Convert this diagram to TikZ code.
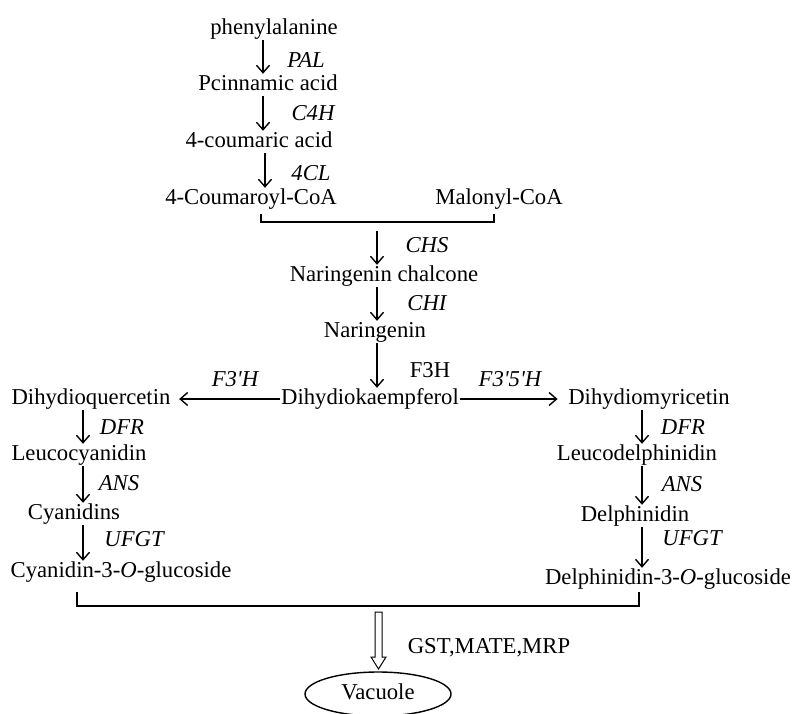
\documentclass[tikz,border=0pt]{standalone}
\usepackage{fontspec}
\setmainfont{Liberation Serif}
\usetikzlibrary{arrows.meta,shapes.geometric}
\begin{document}
\begin{tikzpicture}[x=1pt,y=-1pt,
  every node/.style={font=\fontsize{22.7}{26}\selectfont, inner sep=0.5pt, text height=16pt, text depth=5pt, yshift=-2pt},
  enz/.style={font=\fontsize{22.7}{26}\selectfont\itshape},
  arr/.style={-{Straight Barb[length=7.5pt,width=13pt]}, line width=1.4pt},
  ln/.style={line width=1.4pt}]
\useasboundingbox (0,0) rectangle (792,713);
\clip (0,0) rectangle (792,713);
% main trunk
\node (phe) at (274,27) {phenylalanine};
\node (pci) at (268,83) {Pcinnamic acid};
\node (cou) at (259,140) {4-coumaric acid};
\node (cco) at (251,197) {4-Coumaroyl-CoA};
\node (mal) at (499,197) {Malonyl-CoA};
\node (nch) at (384,274) {Naringenin chalcone};
\node (nar) at (375,330) {Naringenin};
\node (dk) at (370,397) {Dihydiokaempferol};
% enzymes
\node[enz] (pal) at (306,60) {PAL};
\node[enz] (c4h) at (313,113) {C4H};
\node[enz] (fcl) at (311,173) {4CL};
\node[enz] (chs) at (427,245) {CHS};
\node[enz] (chi) at (427,303) {CHI};
\node (f3h) at (430,370) {F3H};
\node[enz] (f3p) at (235,379) {F3\textquotesingle H};
\node[enz] (f35) at (510,379) {F3\textquotesingle 5\textquotesingle H};
% left branch
\node (dq) at (91,397) {Dihydioquercetin};
\node (lc) at (79,453) {Leucocyanidin};
\node (cy) at (74,512) {Cyanidins};
\node (cyg) at (121,570) {Cyanidin-3-\textit{O}-glucoside};
\node[enz] (dfr1) at (122,427) {DFR};
\node[enz] (ans1) at (119,483) {ANS};
\node[enz] (ufg1) at (134,539) {UFGT};
% right branch
\node (dm) at (649,397) {Dihydiomyricetin};
\node (ld) at (637,453) {Leucodelphinidin};
\node (dp) at (635,514) {Delphinidin};
\node (dpg) at (668,577) {Delphinidin-3-\textit{O}-glucoside};
\node[enz] (dfr2) at (683,427) {DFR};
\node[enz] (ans2) at (682,484) {ANS};
\node[enz] (ufg2) at (692,538) {UFGT};
% transport
\node (gst) at (489,646) {GST,MATE,MRP};
\node[draw, ellipse, ln, minimum width=146pt, minimum height=44pt, inner sep=0pt] (vac) at (378,692) {Vacuole};
% arrows trunk
\draw[arr] (phe.south -| 263,0) -- (pci.north -| 263,0);
\draw[arr] (pci.south -| 263,0) -- (cou.north -| 263,0);
\draw[arr] (cou.south -| 265,0) -- (cco.north -| 265,0);
% bracket
\coordinate (b1) at (261,212);
\coordinate (b2) at (494,212);
\draw[ln] (b1) -- (b1 |- 0,222) -- (b2 |- 0,222) -- (b2);
\coordinate (bs) at (377,229);
\draw[arr] (bs) -- (nch.north -| 377,0);
\draw[arr] (nch.south -| 377,0) -- (nar.north -| 377,0);
\draw[arr] (nar.south -| 377,0) -- (dk.north -| 377,0);
% horizontal
\draw[arr] (dk.west) -- ([xshift=8pt]dq.east);
\draw[arr] (dk.east) -- ([xshift=-10pt]dm.west);
% left column
\draw[arr] (dq.south -| 83,0) -- (lc.north -| 83,0);
\draw[arr] (lc.south -| 83,0) -- (cy.north -| 83,0);
\draw[arr] (cy.south -| 83,0) -- (cyg.north -| 83,0);
% right column
\draw[arr] (dm.south -| 642,0) -- (ld.north -| 642,0);
\draw[arr] (ld.south -| 642,0) -- (dp.north -| 642,0);
\draw[arr] (dp.south -| 642,0) -- (dpg.north -| 642,0);
% bottom bracket
\coordinate (c1) at (77,590);
\coordinate (c2) at (639,590);
\draw[ln] (c1) -- (c1 |- 0,606) -- (c2 |- 0,606) -- (c2);
% hollow arrow
\draw[line width=1pt, line join=miter] (375,612) -- (382,612) -- (382,657) -- (386,657) -- (378.5,669) -- (371,657) -- (375,657) -- cycle;
\end{tikzpicture}
\end{document}
